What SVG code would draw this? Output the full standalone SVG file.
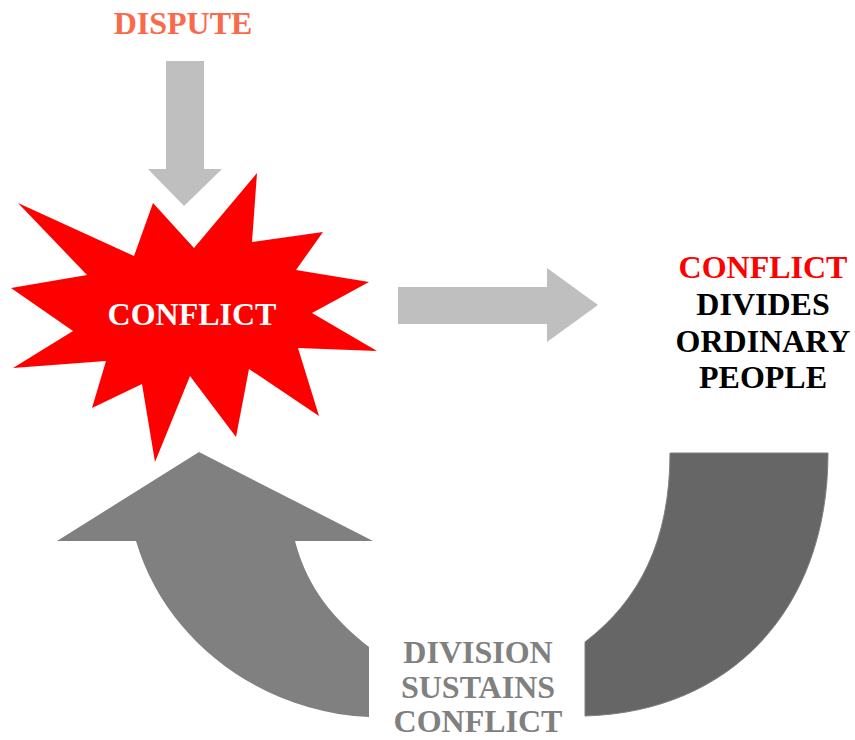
<svg xmlns="http://www.w3.org/2000/svg" width="855" height="740" viewBox="0 0 855 740">
<style>
text{font-family:"Liberation Serif","Times New Roman",serif;font-weight:bold;font-size:32px;text-anchor:middle}
.light{fill:#BFBFBF}
.gray{fill:#808080}
</style>
<rect width="855" height="740" fill="#FFFFFF"/>
<g id="connectors">
<path id="arrow-down" class="light" d="M166,61 H204 V169 H222 L184,206 L148,169 H166 Z"/>
<path id="arrow-right" class="light" d="M398,287 H547 V268 L598,305 L547,342 V324 H398 Z"/>
<path id="arrow-return-right" fill="#666666" stroke="#7F7F7F" stroke-width="1" d="M670,453 H828 C828,610 730,712 585,716 V642 C640,600 670,540 670,453 Z"/>
<path id="arrow-return-left" fill="#808080" d="M369,717 C260,712 165,640 136,541 H57 L199,452 L373,541 H295 C308,590 335,620 369,647 Z"/>
</g>
<g id="dispute">
<text x="183" y="34" fill="#F96A4B">DISPUTE</text>
</g>
<g id="conflict-burst">
<polygon fill="#FF0000" points="18,203 87,275 11,288 73,331 13,368 106,361 92,408 142,384 155,462 190,376 236,437 249,369 319,416 298,348 377,351 312,313 369,282 296,270 323,232 252,242 257,173 194,248 153,203 134,256"/>
<text x="192" y="325" fill="#FFFFFF">CONFLICT</text>
</g>
<g id="divides">
<text x="763" y="278" fill="#FF0000">CONFLICT</text>
<text x="763" y="315" fill="#000000">DIVIDES</text>
<text x="763" y="352" fill="#000000">ORDINARY</text>
<text x="763" y="388" fill="#000000">PEOPLE</text>
</g>
<g id="sustains">
<text class="gray" x="478" y="663">DIVISION</text>
<text class="gray" x="478" y="698">SUSTAINS</text>
<text class="gray" x="478" y="732">CONFLICT</text>
</g>
</svg>
